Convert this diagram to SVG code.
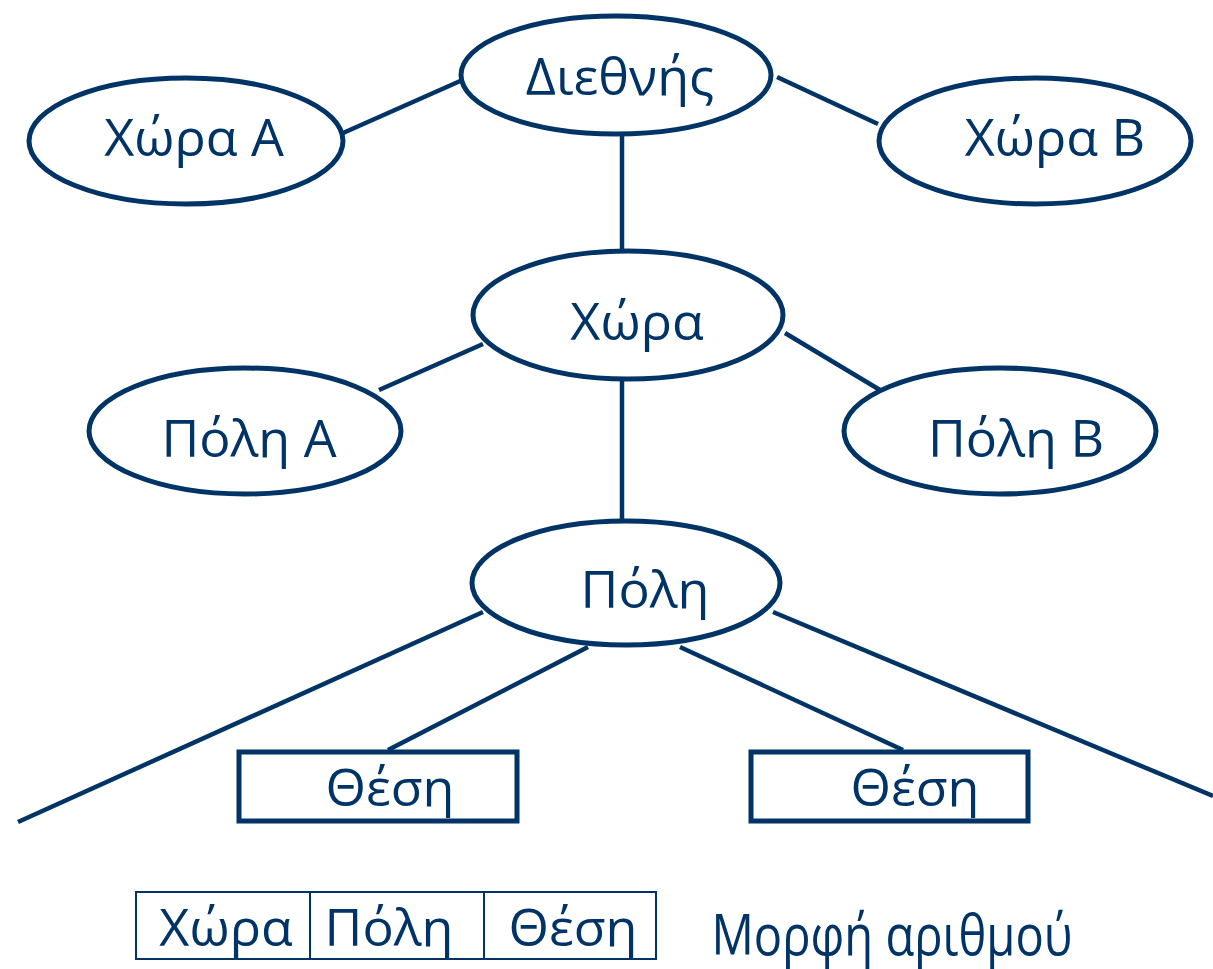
<svg xmlns="http://www.w3.org/2000/svg" width="1213" height="969" viewBox="0 0 1213 969">
<style>
.n{fill:#fff;stroke:#003366;stroke-width:5}
.t{font-family:"Open Sans","DejaVu Sans",sans-serif;font-size:52px;fill:#003366;text-anchor:middle}
.c{stroke:#003366;stroke-width:4.5;fill:none}
.thin{fill:none;stroke:#003366;stroke-width:2}
</style>
<rect width="1213" height="969" fill="#fff"/>
<g id="connectors">
<line class="c" x1="343" y1="133" x2="467" y2="78"/>
<line class="c" x1="777" y1="77" x2="878" y2="124"/>
<line class="c" x1="622" y1="135" x2="622" y2="250"/>
<line class="c" x1="379" y1="390" x2="483" y2="344"/>
<line class="c" x1="785" y1="333" x2="880" y2="390"/>
<line class="c" x1="622" y1="380" x2="622" y2="520"/>
<line class="c" x1="483" y1="612" x2="18" y2="822"/>
<line class="c" x1="588" y1="647" x2="388" y2="750"/>
<line class="c" x1="680" y1="647" x2="903" y2="750"/>
<line class="c" x1="773" y1="612" x2="1213" y2="796"/>
</g>
<g id="diethnis"><ellipse class="n" cx="616" cy="75" rx="155" ry="59"/><text class="t" x="620" y="95">Διεθνής</text></g>
<g id="xora-a"><ellipse class="n" cx="186" cy="141" rx="157" ry="63"/><text class="t" x="194" y="156">Χώρα Α</text></g>
<g id="xora-b"><ellipse class="n" cx="1035" cy="141" rx="156" ry="63"/><text class="t" x="1055" y="156">Χώρα Β</text></g>
<g id="xora"><ellipse class="n" cx="628" cy="315" rx="155" ry="64"/><text class="t" x="637" y="340">Χώρα</text></g>
<g id="poli-a"><ellipse class="n" cx="245" cy="431" rx="156" ry="63"/><text class="t" x="249" y="457">Πόλη Α</text></g>
<g id="poli-b"><ellipse class="n" cx="1000" cy="431" rx="156" ry="63"/><text class="t" x="1016" y="457">Πόλη Β</text></g>
<g id="poli"><ellipse class="n" cx="626" cy="583" rx="154" ry="62"/><text class="t" x="645" y="608">Πόλη</text></g>
<g id="thesi-1"><rect class="n" x="239" y="752" width="278" height="69"/><text class="t" x="390" y="806">Θέση</text></g>
<g id="thesi-2"><rect class="n" x="751" y="752" width="277" height="69"/><text class="t" x="915" y="806">Θέση</text></g>
<g id="format">
<rect class="thin" x="136" y="892" width="520" height="67"/>
<line class="thin" x1="310" y1="892" x2="310" y2="959"/>
<line class="thin" x1="484" y1="892" x2="484" y2="959"/>
<text class="t" x="226" y="946">Χώρα</text>
<text class="t" x="389" y="946">Πόλη</text>
<text class="t" x="573" y="946">Θέση</text>
<text class="t" x="892" y="955" style="font-size:56px" textLength="361" lengthAdjust="spacingAndGlyphs">Μορφή αριθμού</text>
</g>
</svg>
